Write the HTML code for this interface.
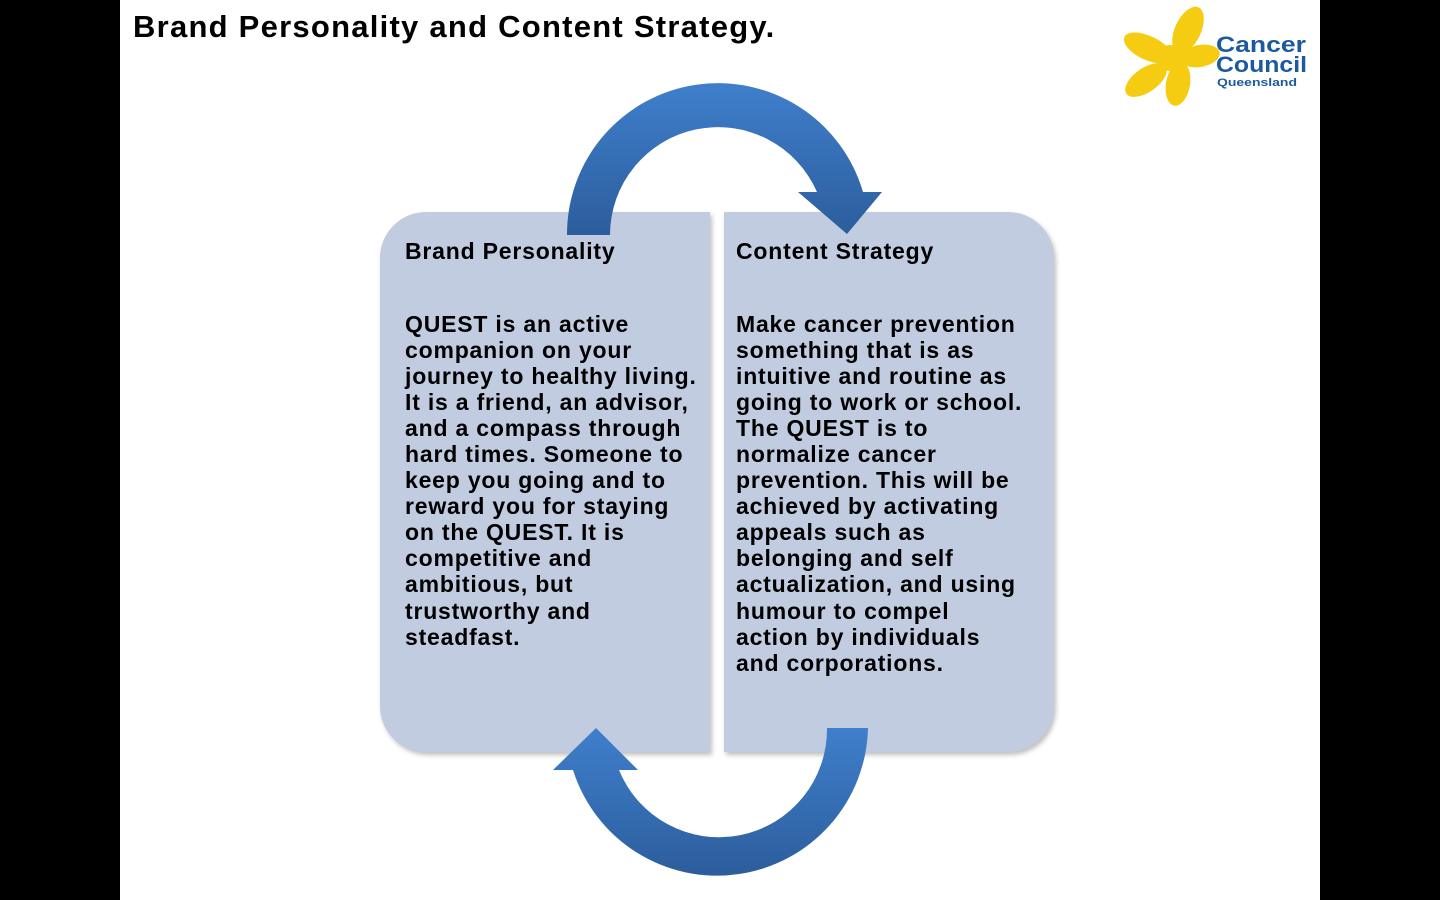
<!DOCTYPE html>
<html><head><meta charset="utf-8"><style>
html,body{margin:0;padding:0;background:#000;}
#s{position:absolute;left:120px;top:0;width:1200px;height:900px;background:#fff;overflow:hidden;}
.t{position:absolute;font-family:"Liberation Sans",Arial,sans-serif;font-weight:bold;color:#000;white-space:pre;}
.b{font-size:23px;line-height:26.05px;letter-spacing:0.8px;}
.box{position:absolute;top:212px;width:330px;height:540px;background:#c1cce1;box-shadow:2px 3px 5px rgba(0,0,0,0.25);}
</style></head><body>
<div id="s">
<div class="t" style="left:13px;top:9px;font-size:31px;letter-spacing:1.25px;">Brand Personality and Content Strategy.</div>
<div class="box" style="left:260px;border-radius:46px 0 0 46px;"></div>
<div class="box" style="left:604px;border-radius:0 46px 46px 0;"></div>
<svg width="1200" height="900" style="position:absolute;left:0;top:0" viewBox="120 0 1200 900">
<defs>
<linearGradient id="g1" x1="0" y1="0" x2="0" y2="1"><stop offset="0" stop-color="#3f7fcc"/><stop offset="1" stop-color="#2c5d9c"/></linearGradient>
<linearGradient id="g2" x1="0" y1="0" x2="0" y2="1"><stop offset="0" stop-color="#3f7fcc"/><stop offset="1" stop-color="#2c5d9c"/></linearGradient>
</defs>
<path d="M567 235 A151 151 0 0 1 863 192 L882 192 L847 234 L798 192 L817 192 A108 108 0 0 0 610 235 Z" fill="url(#g1)"/>
<path d="M868 728 A151 151 0 0 1 573 770 L553 770 L596 728 L638 770 L619 770 A108 108 0 0 0 827 728 Z" fill="url(#g2)"/>
<g fill="#f5cc12">
<ellipse cx="1188" cy="30" rx="13" ry="25" transform="rotate(25 1188 30)"/>
<ellipse cx="1148" cy="48" rx="12" ry="26" transform="rotate(-65 1148 48)"/>
<ellipse cx="1146" cy="80" rx="12" ry="24" transform="rotate(-125 1146 80)"/>
<ellipse cx="1178" cy="84" rx="12" ry="22" transform="rotate(-170 1178 84)"/>
<ellipse cx="1200" cy="56" rx="11" ry="20" transform="rotate(80 1200 56)"/>
<circle cx="1170" cy="58" r="13"/>
</g>
<text x="1216" y="52" font-family="Liberation Sans,Arial,sans-serif" font-weight="bold" font-size="22" textLength="90" lengthAdjust="spacingAndGlyphs" fill="#1c5aa0">Cancer</text>
<text x="1216" y="72" font-family="Liberation Sans,Arial,sans-serif" font-weight="bold" font-size="22" textLength="91" lengthAdjust="spacingAndGlyphs" fill="#1c5aa0">Council</text>
<text x="1217" y="86" font-family="Liberation Sans,Arial,sans-serif" font-weight="bold" font-size="11" textLength="80" lengthAdjust="spacingAndGlyphs" fill="#1c5aa0">Queensland</text>
</svg>
<div class="t b" style="left:285px;top:238px;">Brand Personality</div>
<div class="t b" style="left:285px;top:311px;">QUEST is an active
companion on your
journey to healthy living.
It is a friend, an advisor,
and a compass through
hard times. Someone to
keep you going and to
reward you for staying
on the QUEST. It is
competitive and
ambitious, but
trustworthy and
steadfast.</div>
<div class="t b" style="left:616px;top:238px;">Content Strategy</div>
<div class="t b" style="left:616px;top:311px;">Make cancer prevention
something that is as
intuitive and routine as
going to work or school.
The QUEST is to
normalize cancer
prevention. This will be
achieved by activating
appeals such as
belonging and self
actualization, and using
humour to compel
action by individuals
and corporations.</div>
</div>
</body></html>
